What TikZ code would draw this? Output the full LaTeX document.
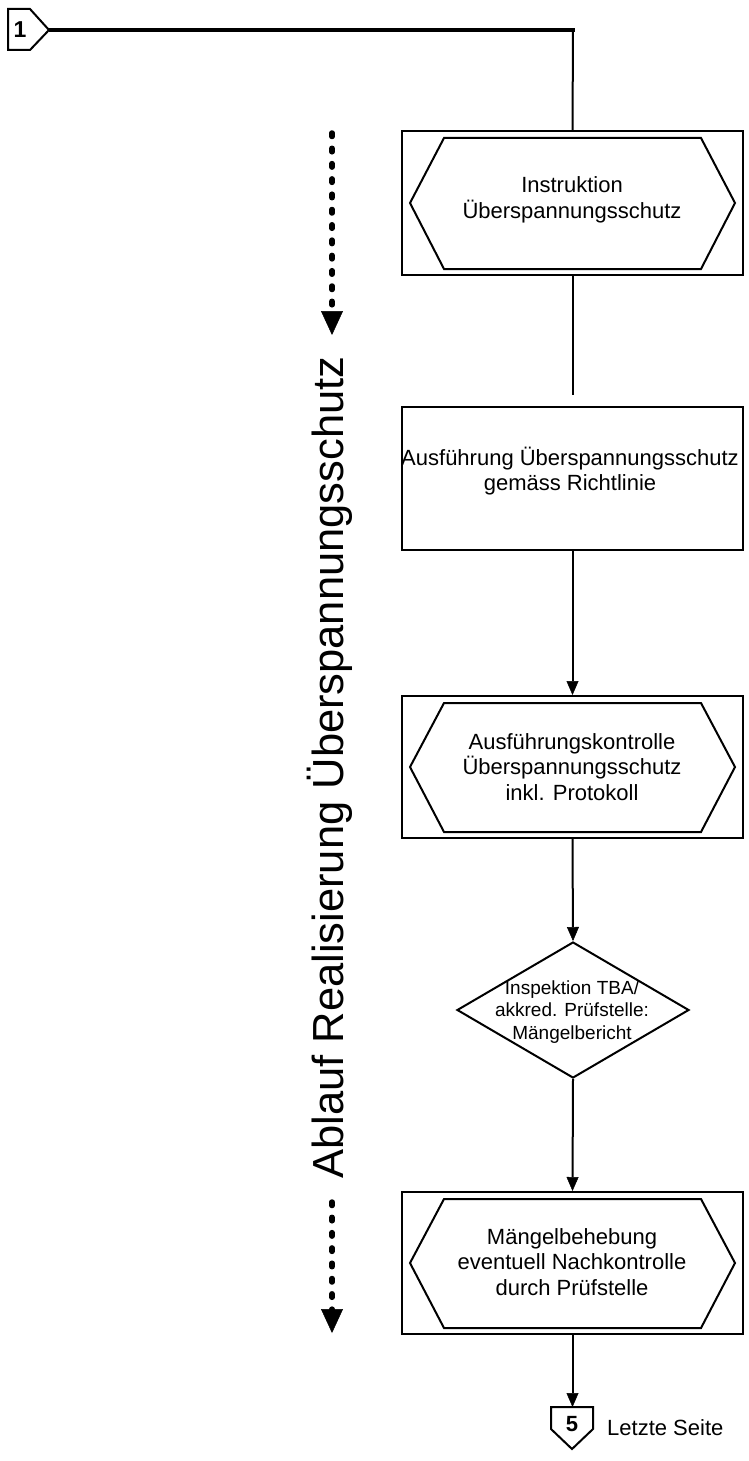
\documentclass[tikz,border=0pt]{standalone}
\usepackage{fontspec}
\setmainfont{Liberation Sans}
\usetikzlibrary{arrows.meta,shapes.geometric}
\newcommand\hexagonin[1]{%
  \draw[hex] ([shift={(9,0)}]#1.west) -- ([shift={(43,8)}]#1.north west) -- ([shift={(-43,8)}]#1.north east) -- ([shift={(-9,0)}]#1.east) -- ([shift={(-43,-7)}]#1.south east) -- ([shift={(43,-7)}]#1.south west) -- cycle;}
\begin{document}
\begin{tikzpicture}[x=1pt,y=-1pt,
  box/.style={draw,line width=2pt,minimum width=341pt,inner sep=0pt},
  txt/.style={align=center,font=\fontsize{22}{25.5}\selectfont,inner sep=0pt},
  flow/.style={line width=2pt,-{Triangle[length=14pt,width=12pt,line width=0.5pt]}},
  dots/.style={line width=5.5pt,line cap=round,dash pattern=on 3.5pt off 11.8pt,-{Triangle[length=24pt,width=22pt,line width=0.5pt]}},
  hex/.style={line width=2pt,line join=miter},
  thin/.style={line width=2pt}
]
\useasboundingbox (0,0) rectangle (749,1461);

% boxes
\node[box,minimum height=144pt] (b1) at (572.5,203) {};
\node[box,minimum height=143pt] (b2) at (572.5,478.5) {};
\node[box,minimum height=142pt] (b3) at (572.5,767) {};
\node[draw,diamond,line width=2pt,minimum width=232pt,minimum height=136pt,inner sep=0pt] (d) at (573,1010) {};
\node[box,minimum height=142pt] (b4) at (572.5,1263) {};

\hexagonin{b1}
\hexagonin{b3}
\hexagonin{b4}

% texts
\node[txt] (t1) at (572,200) {Instruktion\\Überspannungsschutz};
\node[txt] (t2) at (570,471) {Ausführung Überspannungsschutz\\gemäss Richtlinie};
\node[txt] (t3) at (572,767) {Ausführungskontrolle\\Überspannungsschutz\\inkl. Protokoll};
\node[txt,font=\fontsize{19}{22.5}\selectfont] (t4) at (572,1012) {Inspektion TBA/\\akkred. Prüfstelle:\\Mängelbericht};
\node[txt] (t5) at (572,1262) {Mängelbehebung\\eventuell Nachkontrolle\\durch Prüfstelle};

% connector 1
\draw[line width=2pt,line join=miter] (8,9) -- (30,9) -- (49,30) -- (30,50) -- (8,50) -- cycle;
\node[font=\bfseries\fontsize{23}{23}\selectfont,inner sep=0pt] (n1) at (20,30) {1};
\coordinate (c1) at (49,30);
\coordinate (k) at (573,30);
\coordinate (kend) at (575,30);
\draw[line width=4.5pt] (c1) -- (kend);
\draw[thin] (k) -- (b1.north);

% flow
\coordinate (gap) at (572.5,395);
\draw[thin] (b1.south) -- (gap);
\draw[flow] (b2.south) -- (b3.north);
\draw[flow] (b3.south) -- (d.north);
\draw[flow] (d.south) -- (b4.north);

% connector 5
\coordinate (c5top) at (572.5,1407);
\draw[flow] (b4.south) -- (c5top);
\draw[line width=2pt,line join=miter] (551,1407) -- (593,1407) -- (593,1429) -- (572,1449) -- (551,1429) -- cycle;
\node[font=\bfseries\fontsize{22}{22}\selectfont,inner sep=0pt] (n5) at (572,1424) {5};
\node[anchor=base west,inner sep=0pt,font=\fontsize{22}{22}\selectfont] (ls) at (607,1435) {Letzte Seite};

% left dotted arrows and title
\coordinate (a1s) at (332,133);
\coordinate (a1e) at (332,335);
\draw[dots] (a1s) -- (a1e);
\coordinate (a2s) at (332,1202);
\coordinate (a2e) at (332,1333);
\draw[dots] (a2s) -- (a2e);
\node[rotate=90,anchor=base,inner sep=0pt,font=\fontsize{43.5}{43.5}\selectfont] (title) at (343,767.5) {Ablauf Realisierung Überspannungsschutz};
\end{tikzpicture}
\end{document}
